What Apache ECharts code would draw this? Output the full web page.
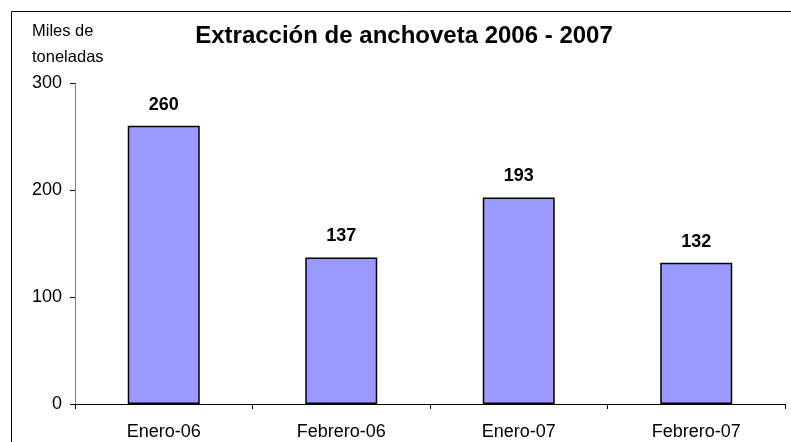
<!DOCTYPE html>
<html>
<head>
<meta charset="UTF-8">
<title>Extracción de anchoveta</title>
<script src="https://cdn.jsdelivr.net/npm/echarts@6/dist/echarts.min.js"></script>
<style>
  html, body { margin: 0; padding: 0; background: #fff; }
  #main { width: 791px; height: 442px; }
</style>
</head>
<body>
<div id="main"></div>
<script type="text/javascript">
// datos
var categorias = ['Enero-06', 'Febrero-06', 'Enero-07', 'Febrero-07'];
var valores = [260, 137, 193, 132];
var ejeY = { min: 0, max: 300, interval: 100 };

var myChart = echarts.init(document.getElementById('main'));
var fuente = '"Liberation Sans", Arial, sans-serif';

myChart.setOption({
    animation: false,
    textStyle: { fontFamily: fuente },
    title: {
        text: 'Extracción de anchoveta 2006 - 2007',
        left: 399,
        textAlign: 'center',
        top: 19,
        textStyle: { fontSize: 24, fontWeight: 'bold', color: '#000', fontFamily: fuente }
    },
    graphic: [
        {
            type: 'rect',
            shape: { x: 11.5, y: 11.5, width: 820, height: 480 },
            style: { fill: 'none', stroke: '#000', lineWidth: 1 },
            silent: true
        },
        {
            type: 'text',
            left: 32, top: 23,
            style: { text: 'Miles de', fontSize: 16.5, fill: '#000', fontFamily: fuente }
        },
        {
            type: 'text',
            left: 32, top: 49,
            style: { text: 'toneladas', fontSize: 16.5, fill: '#000', fontFamily: fuente }
        }
    ],
    grid: { left: 75, right: 6, top: 83, bottom: 38 },
    xAxis: {
        type: 'category',
        data: categorias,
        axisLine: { lineStyle: { color: '#000', width: 1 } },
        axisTick: { show: true, length: 5, lineStyle: { color: '#000' } },
        axisLabel: { color: '#000', fontSize: 18, margin: 19, fontFamily: fuente }
    },
    yAxis: {
        type: 'value',
        min: ejeY.min,
        max: ejeY.max,
        interval: ejeY.interval,
        axisLine: { show: true, lineStyle: { color: '#808080', width: 1 } },
        axisTick: { show: true, length: 5, lineStyle: { color: '#000' } },
        axisLabel: { color: '#000', fontSize: 18, margin: 13, fontFamily: fuente },
        splitLine: { show: false }
    },
    series: [{
        type: 'bar',
        data: valores,
        barWidth: 72,
        itemStyle: { color: '#9999FF', borderColor: '#000', borderWidth: 1.5 },
        label: {
            show: true,
            position: 'top',
            distance: 12,
            color: '#000',
            fontSize: 18,
            fontWeight: 'bold',
            fontFamily: fuente
        }
    }]
});
</script>
</body>
</html>
